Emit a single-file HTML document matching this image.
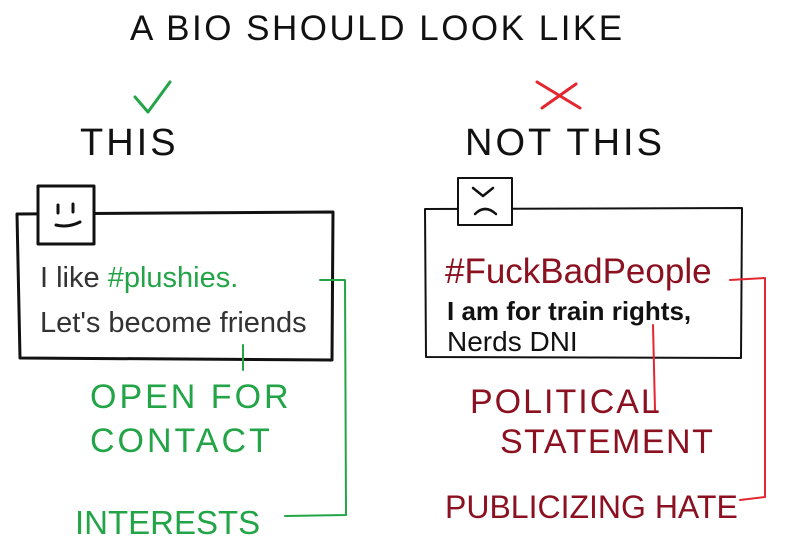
<!DOCTYPE html>
<html><head><meta charset="utf-8"><style>
html,body{margin:0;padding:0;background:#fff;}
body{width:790px;height:560px;position:relative;overflow:hidden;font-family:"Liberation Sans",sans-serif;}
.t{position:absolute;white-space:nowrap;line-height:1;}
</style></head><body>
<svg width="790" height="560" style="position:absolute;left:0;top:0" fill="none" stroke-linecap="round" stroke-linejoin="round">
<path d="M135 97 L148 112 L170 82" stroke="#22a447" stroke-width="3"/>
<path d="M537 82 L580 108 M576 84 L542 108" stroke="#e3262f" stroke-width="3"/>
<path d="M17 214 L333 212 L332 360 L20 358 Z" stroke="#111" stroke-width="3"/>
<rect x="38" y="186" width="56" height="58" fill="#fff" stroke="#111" stroke-width="3"/>
<path d="M58 205 L58 213 M73 204 L73 212 M56 225 Q68 228 80 222" stroke="#111" stroke-width="3"/>
<path d="M425 209 L742 208 L741 358 L426 357 Z" stroke="#111" stroke-width="2"/>
<rect x="458" y="178" width="54" height="47" fill="#fff" stroke="#111" stroke-width="2"/>
<path d="M473 188 L483 196 L493 188 M475 214 Q485 204 496 214" stroke="#111" stroke-width="2.5"/>
<path d="M320 280 L345 280 L346 515 L285 516" stroke="#22a447" stroke-width="2"/>
<path d="M243 345 L243 370" stroke="#22a447" stroke-width="2"/>
<path d="M653 325 L655 410" stroke="#e3262f" stroke-width="2"/>
<path d="M730 280 L765 278 L765 497 L740 500" stroke="#e3262f" stroke-width="2"/>
</svg>
<div class="t" style="left:130px;top:11px;font-size:35px;letter-spacing:2.5px;color:#111">A BIO SHOULD LOOK LIKE</div>
<div class="t" style="left:80px;top:124px;font-size:38px;letter-spacing:3px;color:#111">THIS</div>
<div class="t" style="left:465px;top:124px;font-size:38px;letter-spacing:3px;color:#111">NOT THIS</div>
<div class="t" style="left:40px;top:264px;font-size:29px;color:#333">I like <span style="color:#22a447">#plushies.</span></div>
<div class="t" style="left:40px;top:309px;font-size:29px;color:#333">Let's become friends</div>
<div class="t" style="left:90px;top:380px;font-size:34px;letter-spacing:3px;color:#22a447">OPEN FOR</div>
<div class="t" style="left:90px;top:424px;font-size:34px;letter-spacing:3px;color:#22a447">CONTACT</div>
<div class="t" style="left:75px;top:506px;font-size:33px;color:#22a447">INTERESTS</div>
<div class="t" style="left:445px;top:254px;font-size:35px;color:#8b1020">#FuckBadPeople</div>
<div class="t" style="left:447px;top:298px;font-size:26px;font-weight:bold;color:#111">I am for train rights,</div>
<div class="t" style="left:447px;top:328px;font-size:28px;color:#111">Nerds DNI</div>
<div class="t" style="left:470px;top:385px;font-size:34px;letter-spacing:2px;color:#8b1020">POLITICAL</div>
<div class="t" style="left:500px;top:425px;font-size:34px;letter-spacing:1.5px;color:#8b1020">STATEMENT</div>
<div class="t" style="left:445px;top:491px;font-size:32px;color:#8b1020">PUBLICIZING HATE</div>
</body></html>
